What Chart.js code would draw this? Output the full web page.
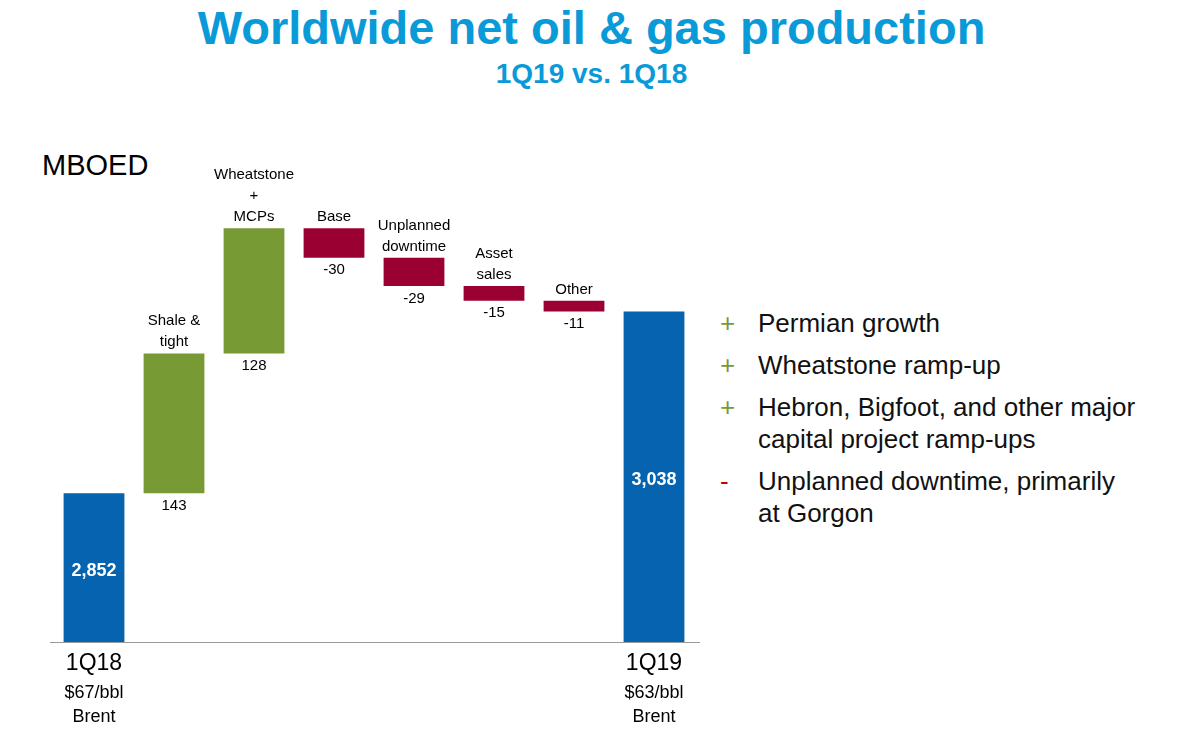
<!DOCTYPE html>
<html><head><meta charset="utf-8">
<script src="https://cdn.jsdelivr.net/npm/chart.js@4"></script>
<style>
body{margin:0;width:1183px;height:729px;background:#fff;font-family:"Liberation Sans",Arial,sans-serif;position:relative;overflow:hidden}
#t1{position:absolute;top:0;left:0;width:1183px;text-align:center;color:#0a9ad8;font-weight:bold;font-size:47px;top:0px}
#t2{position:absolute;top:58px;left:0;width:1183px;text-align:center;color:#0a9ad8;font-weight:bold;font-size:28px}
#unit{position:absolute;left:42px;top:149px;font-size:29px;color:#000}
#box{position:absolute;left:0;top:140px;width:720px;height:590px}
.b{position:absolute;left:720px;font-size:26px;color:#111;line-height:32px}
.b span{display:inline-block;width:38px;padding-left:0}
</style></head><body>
<div id="t1">Worldwide net oil &amp; gas production</div>
<div id="t2">1Q19 vs. 1Q18</div>
<div id="unit">MBOED</div>
<div id="box"><canvas id="c"></canvas></div>
<div class="b" style="top:307px"><span style="color:#779a35">+</span>Permian growth</div>
<div class="b" style="top:349px"><span style="color:#779a35">+</span>Wheatstone ramp-up</div>
<div class="b" style="top:391px"><span style="color:#779a35">+</span>Hebron, Bigfoot, and other major<br><span></span>capital project ramp-ups</div>
<div class="b" style="top:465px"><span style="color:#c00">-</span>Unplanned downtime, primarily<br><span></span>at Gorgon</div>
<script>
const categories = ['1Q18', 'Shale & tight', 'Wheatstone + MCPs', 'Base', 'Unplanned downtime', 'Asset sales', 'Other', '1Q19'];
const catLabels = [[], ['Shale &', 'tight'], ['Wheatstone', '+', 'MCPs'], ['Base'], ['Unplanned', 'downtime'], ['Asset', 'sales'], ['Other'], []];
const changes = [2852, 143, 128, -30, -29, -15, -11, 3038];
const valueLabels = ['2,852', '143', '128', '-30', '-29', '-15', '-11', '3,038'];
const subLabels = [['1Q18', '$67/bbl', 'Brent'], null, null, null, null, null, null, ['1Q19', '$63/bbl', 'Brent']];

const BLUE = '#0563b0', GREEN = '#779a35', RED = '#9b0033';
let run = 0;
const ranges = changes.map((v, i) => {
  if (i === 0 || i === changes.length - 1) { run = v; return [0, v]; }
  const r = [run, run + v]; run += v; return r;
});
const colors = changes.map((v, i) => (i === 0 || i === changes.length - 1) ? BLUE : (v >= 0 ? GREEN : RED));

const labelPlugin = {
  id: 'labels',
  afterDatasetsDraw(chart) {
    const ctx = chart.ctx, meta = chart.getDatasetMeta(0), y = chart.scales.y;
    ctx.save();
    ctx.textAlign = 'center';
    // baseline
    ctx.strokeStyle = '#999'; ctx.lineWidth = 1;
    ctx.beginPath(); ctx.moveTo(50, chart.chartArea.bottom + 0.5); ctx.lineTo(700, chart.chartArea.bottom + 0.5); ctx.stroke();
    meta.data.forEach((bar, i) => {
      const x = bar.x;
      const top = y.getPixelForValue(Math.max(...ranges[i]));
      const bot = y.getPixelForValue(Math.min(...ranges[i]));
      ctx.font = '15px "Liberation Sans", Arial';
      ctx.fillStyle = '#000';
      if (subLabels[i]) {
        ctx.fillStyle = '#fff'; ctx.font = 'bold 18px "Liberation Sans", Arial';
        ctx.textBaseline = 'middle';
        ctx.fillText(valueLabels[i], x, i === 0 ? 571 - 140 : 480 - 140);
        ctx.fillStyle = '#000'; ctx.textBaseline = 'alphabetic';
        ctx.font = '23px "Liberation Sans", Arial';
        ctx.fillText(subLabels[i][0], x, 670 - 140);
        ctx.font = '18px "Liberation Sans", Arial';
        ctx.fillText(subLabels[i][1], x, 698 - 140);
        ctx.fillText(subLabels[i][2], x, 722 - 140);
      } else {
        ctx.textBaseline = 'top';
        ctx.fillText(valueLabels[i], x, bot + 5);
        ctx.textBaseline = 'alphabetic';
        const lines = catLabels[i];
        lines.forEach((l, k) => ctx.fillText(l, x, top - 7 - (lines.length - 1 - k) * 21));
      }
    });
    ctx.restore();
  }
};

new Chart(document.getElementById('c'), {
  type: 'bar',
  data: { labels: categories, datasets: [{ data: ranges, backgroundColor: colors, barPercentage: 0.76, categoryPercentage: 1 }] },
  options: {
    responsive: true, maintainAspectRatio: false, animation: false,
    layout: { padding: { top: 13, bottom: 88, left: 54, right: 26 } },
    plugins: { legend: { display: false }, tooltip: { enabled: false } },
    scales: {
      x: { display: false },
      y: { display: false, min: 2700, max: 3200 }
    }
  },
  plugins: [labelPlugin]
});
</script>
</body></html>
